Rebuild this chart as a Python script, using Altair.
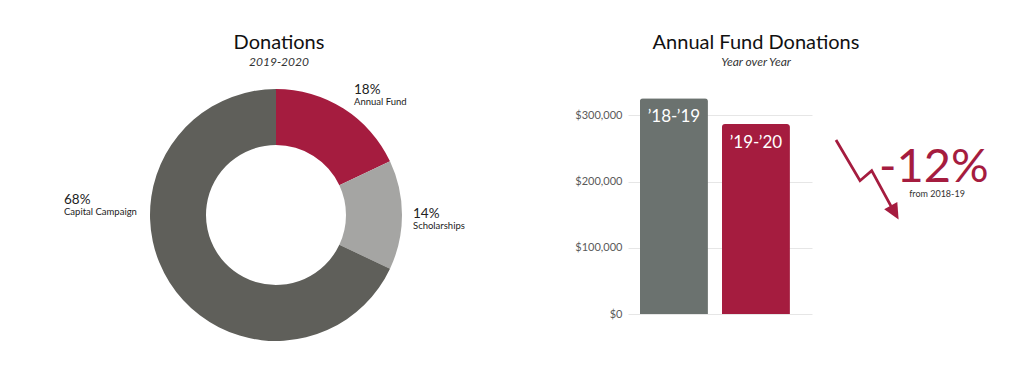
import altair as alt
import pandas as pd

# ---- data ----
donut_categories = ["Annual Fund", "Scholarships", "Capital Campaign"]
donut_shares = [18, 14, 68]
donut_colors = ["#a51c3f", "#a5a5a3", "#5f5f5a"]

seasons = ["\u201918-\u201919", "\u201919-\u201920"]
annual_fund_totals = [326000, 287000]
bar_colors = ["#6b726f", "#a51c3f"]
y_ticks = [0, 100000, 200000, 300000]

change_pct = round((annual_fund_totals[1] - annual_fund_totals[0]) / annual_fund_totals[0] * 100)

FONT = "Lato"
RED = "#a51c3f"
TXT = "#222222"

one = pd.DataFrame({"k": [0]})


def note(text, x, y, size, **kw):
    return alt.Chart(one).mark_text(
        text=text, fontSize=size, font=FONT, baseline="alphabetic", **kw
    ).encode(x=alt.value(x), y=alt.value(y))


# ---- donut panel ----
donut_df = pd.DataFrame({
    "category": donut_categories,
    "share": donut_shares,
    "idx": list(range(len(donut_categories))),
    "pct": [f"{s}%" for s in donut_shares],
})

arc = alt.Chart(donut_df).mark_arc(innerRadius=70, outerRadius=126).encode(
    theta=alt.Theta("share:Q", stack=True),
    order=alt.Order("idx:Q"),
    color=alt.Color("category:N", scale=alt.Scale(domain=donut_categories, range=donut_colors), legend=None),
    x=alt.value(268),
    y=alt.value(207),
)

label_pos = {
    "Annual Fund": (346, 85.5, 97),
    "Scholarships": (405, 209.5, 220.5),
    "Capital Campaign": (56, 195.5, 207),
}
label_layers = []
for cat in donut_categories:
    lx, py, ly = label_pos[cat]
    base = alt.Chart(donut_df).transform_filter(alt.datum.category == cat)
    label_layers.append(
        base.mark_text(align="left", baseline="alphabetic", fontSize=13.5, font=FONT, color=TXT)
        .encode(x=alt.value(lx), y=alt.value(py), text="pct:N")
    )
    label_layers.append(
        base.mark_text(align="left", baseline="alphabetic", fontSize=9.5, font=FONT, color=TXT)
        .encode(x=alt.value(lx), y=alt.value(ly), text="category:N")
    )

left = alt.layer(
    arc,
    *label_layers,
    note("Donations", 271, 41, 20, align="center", color="#111111"),
    note("2019-2020", 271, 57.5, 12, align="center", fontStyle="italic", color="#333333"),
).properties(width=540, height=360)

# ---- bar panel ----
bar_df = pd.DataFrame({"season": seasons, "total": annual_fund_totals})

x_enc = alt.X(
    "season:N", sort=seasons, axis=None,
    scale=alt.Scale(paddingInner=0.17, paddingOuter=0.207, align=0.35),
)
y_scale = alt.Scale(domain=[0, 340000], range=[306, 81], nice=False)

bars = alt.Chart(bar_df).mark_bar(cornerRadiusTopLeft=3, cornerRadiusTopRight=3).encode(
    x=x_enc,
    y=alt.Y(
        "total:Q", scale=y_scale,
        axis=alt.Axis(
            values=y_ticks, format="$,.0f", title=None, domain=False, ticks=False, tickSize=0,
            labelPadding=6, labelFontSize=11, labelFont=FONT, labelColor="#5a5a5a",
            gridColor="#e6e6e6", gridWidth=1, minExtent=80, maxExtent=80,
        ),
    ),
    color=alt.Color("season:N", scale=alt.Scale(domain=seasons, range=bar_colors), legend=None),
)

bar_labels = alt.Chart(bar_df).mark_text(
    color="white", fontSize=17, font=FONT, baseline="alphabetic", dy=24
).encode(x=x_enc, y=alt.Y("total:Q", scale=y_scale), text="season:N")

arrow_line = "M-0.775,-0.9875L-0.175,0.03L0.1175,-0.22L0.6,0.665"
arrow_head = "M0.79,1.0L0.43,0.745L0.7575,0.56Z"

arrow = alt.Chart(one).mark_point(
    shape=arrow_line, size=6400, filled=False, stroke=RED, strokeWidth=2.8, opacity=1
).encode(x=alt.value(239), y=alt.value(171.5))
head = alt.Chart(one).mark_point(
    shape=arrow_head, size=6400, filled=True, fill=RED, strokeWidth=0, opacity=1
).encode(x=alt.value(239), y=alt.value(171.5))

right = alt.layer(
    bars,
    bar_labels,
    arrow,
    head,
    note("Annual Fund Donations", 128, 41, 20, align="center", color="#111111"),
    note("Year over Year", 128, 57.5, 12, align="center", fontStyle="italic", color="#333333"),
    note(f"{change_pct}%", 251, 173.5, 47, align="left", color=RED),
    note("from 2018-19", 309, 189, 9, align="center", color="#333333"),
).properties(width=184, height=360)

chart = (
    alt.hconcat(left, right, spacing=0)
    .resolve_scale(color="independent")
    .properties(padding=0)
    .configure_view(stroke=None)
)

chart.save("out.html", embed_options={"renderer": "svg", "actions": False})
